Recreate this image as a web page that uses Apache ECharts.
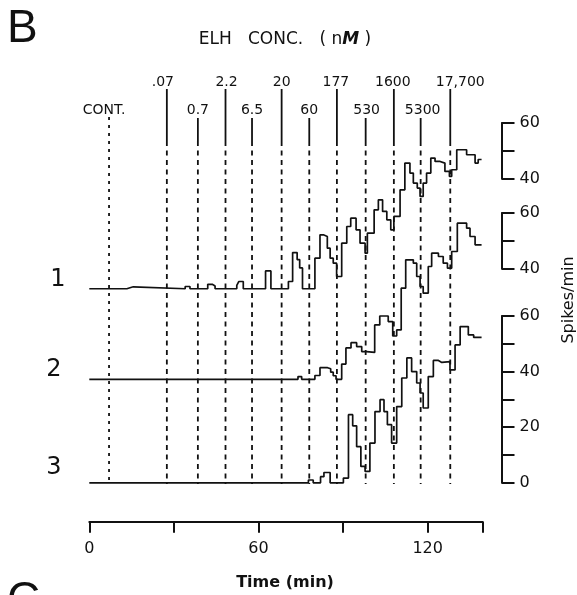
<!DOCTYPE html>
<html>
<head>
<meta charset="utf-8">
<script src="https://cdn.jsdelivr.net/npm/echarts@6/dist/echarts.min.js"></script>
<style>
  html, body { margin: 0; padding: 0; background: #fff; }
  #chart { width: 577px; height: 595px; }
</style>
</head>
<body>
<div id="chart"></div>
<script>
// times (min) when each ELH concentration was applied
const concTimes = [7, 27.5, 38.5, 48.3, 57.7, 68.2, 78, 87.8, 98, 108, 117.5, 128];
const concLabels = ["CONT.", ".07", "0.7", "2.2", "6.5", "20", "60", "177", "530", "1600", "5300", "17,700"];

// spikes/min, [time, rate] held until the next time
const trace1 = [
  [0, 0], [13.3, 0.7], [15.6, 0], [34, 0.8], [35.7, 0], [42, 1.6], [43.6, 1], [44.6, 0],
  [52.3, 1.2], [53, 2.6], [54.6, 0], [62.5, 6.4], [64.4, 0], [70.6, 2.6], [72.1, 13],
  [73.7, 10.5], [74.6, 7.5], [75.6, 0], [80, 11], [81.8, 19.4], [83, 18.8], [84.4, 14.6],
  [85.4, 11], [86.5, 9.2], [87.7, 4.4], [89.5, 16.4], [91.3, 22.4], [92.7, 25.4], [94.6, 21.2],
  [96, 16.4], [97.8, 12.8], [98.6, 20], [101, 28.4], [102.5, 32], [104, 27.8], [105.5, 24.8],
  [106.9, 21.2], [108, 26], [110.2, 35.6], [111.9, 45.2], [113.7, 41.6], [114.9, 38],
  [116.3, 36.2], [117.3, 33.2], [118.4, 38], [119.6, 41.6], [121.1, 47], [122.6, 45.8],
  [124.4, 45.2], [126.1, 42.2], [127.7, 40.4], [128.5, 42.8], [130.3, 50], [133.8, 48.2],
  [136.8, 45.2], [137.9, 46.5], [139.1, 46.5]
];
const trace2 = [
  [0, 0], [74, 1], [75.3, 0], [80, 1.4], [81.8, 4.2], [84.5, 3.8], [85.6, 2.6], [86.5, 1.3],
  [87.5, 0], [89.5, 5.5], [91, 11.3], [92.8, 13.2], [94.8, 11.8], [96.6, 10], [98.3, 9.7],
  [101.2, 19.6], [103, 22.8], [106, 20.8], [107.6, 15.6], [109, 17.8], [110.6, 32.8],
  [112.2, 43], [114.9, 41.8], [116.1, 37], [117.3, 33.4], [118.4, 31], [120.2, 40.6],
  [121.4, 45.4], [123.8, 44.2], [125.5, 41.8], [127, 40], [128.5, 46], [130.5, 56.2],
  [133.8, 54.4], [135, 51.4], [136.8, 48.4], [139.1, 48.4]
];
const trace3 = [
  [0, 0], [77.7, 1], [79.4, 0], [82, 2.2], [83.2, 3.7], [85.4, 0], [90.1, 1.7], [91.9, 24.5],
  [93.4, 20.5], [94.8, 13], [96.3, 5.9], [97.8, 4.1], [99.5, 14.3], [101.3, 25.6], [103.1, 29.9],
  [104.5, 25.6], [105.7, 20.9], [107.2, 14.3], [109, 27.4], [110.8, 37.7], [112.6, 44.9],
  [114.3, 40], [116.1, 35.9], [117.3, 32.3], [118.4, 26.9], [120.2, 38.2], [122, 44],
  [123.8, 43.3], [125, 43.6], [127.9, 40.6], [129.7, 49.6], [131.5, 56.2], [134.4, 53.2],
  [136.3, 52.3], [139.1, 52.3]
];
const traces = [trace1, trace2, trace3];
const traceNames = ["1", "2", "3"];
const traceOffsets = [69.8, 37.2, 0]; // vertical stacking of the three records

const xTickLabels = [0, 60, 120];
const scaleBars = [
  { min: 40, max: 60, labels: [40, 60] },
  { min: 40, max: 60, labels: [40, 60] },
  { min: 0, max: 60, labels: [0, 20, 40, 60] }
];

const INK = "#111";
const FONT = "DejaVu Sans";
const labelDx = [-5, -4, 0, 1, 0, 0, 0, -1, 1, -1, 2, 10];

const chart = echarts.init(document.getElementById("chart"));

function renderConc(params, api) {
  const i = params.dataIndex;
  const x = api.coord([api.value(0), 0])[0];
  const upper = i % 2 === 1;
  const first = i === 0;
  const children = [
    {
      type: "line",
      shape: { x1: x, y1: first ? 117 : 141, x2: x, y2: 484 },
      style: { stroke: INK, lineWidth: 1.8, lineDash: first ? [3, 5] : [5, 4.5] }
    },
    {
      type: "text",
      x: x + labelDx[i],
      y: upper ? 82 : 110,
      style: {
        text: concLabels[i], fill: INK, fontSize: 14, fontFamily: FONT,
        align: "center", verticalAlign: "middle"
      }
    }
  ];
  if (!first) {
    children.push({
      type: "line",
      shape: { x1: x, y1: upper ? 89 : 118, x2: x, y2: 141 },
      style: { stroke: INK, lineWidth: 1.8 }
    });
  }
  return { type: "group", children };
}

const barGrids = [
  { left: 470, right: 75.5, top: 123, height: 55.6 },
  { left: 470, right: 75.5, top: 213, height: 55.6 },
  { left: 470, right: 75.5, top: 316, height: 166.5 }
];

const grids = [{ left: 89.3, right: 94.3, top: 93.6, bottom: 73.3 }].concat(barGrids);

const xAxes = [{
  type: "value", gridIndex: 0, min: 0, max: 139.5, interval: 30,
  axisLine: { show: true, onZero: false, lineStyle: { color: INK, width: 2 } },
  axisTick: { show: true, length: 11, lineStyle: { color: INK, width: 2 } },
  axisLabel: {
    color: INK, fontSize: 16, fontFamily: FONT, margin: 19,
    formatter: v => (xTickLabels.indexOf(v) >= 0 ? String(v) : "")
  },
  splitLine: { show: false }
}];
const yAxes = [{
  type: "value", gridIndex: 0, min: -14, max: 140, show: false
}];
scaleBars.forEach((b, k) => {
  xAxes.push({ type: "value", gridIndex: k + 1, show: false });
  yAxes.push({
    type: "value", gridIndex: k + 1, position: "right",
    min: b.min, max: b.max, interval: 10,
    axisLine: { show: true, onZero: false, lineStyle: { color: INK, width: 2 } },
    axisTick: { show: true, length: 13, lineStyle: { color: INK, width: 2 } },
    axisLabel: {
      color: INK, fontSize: 16, fontFamily: FONT, margin: 18,
      formatter: v => (b.labels.indexOf(v) >= 0 ? String(v) : "")
    },
    splitLine: { show: false }
  });
});

const series = traces.map((tr, k) => ({
  name: traceNames[k],
  type: "line",
  step: "end",
  xAxisIndex: 0,
  yAxisIndex: 0,
  symbol: "none",
  silent: true,
  lineStyle: { color: INK, width: 1.7 },
  data: tr.map(p => [p[0], p[1] + traceOffsets[k]])
}));
series.push({
  type: "custom",
  xAxisIndex: 0,
  yAxisIndex: 0,
  clip: false,
  silent: true,
  renderItem: renderConc,
  data: concTimes.map((t, i) => [t, i])
});

const textStyle = (txt, extra) => Object.assign({ text: txt, fill: INK, fontFamily: FONT }, extra);

chart.setOption({
  animation: false,
  backgroundColor: "#fff",
  grid: grids,
  xAxis: xAxes,
  yAxis: yAxes,
  series: series,
  graphic: [
    { type: "text", left: 7, top: 6, style: textStyle("B", { fontSize: 46, fontFamily: "Liberation Sans" }) },
    { type: "text", left: 7, top: 578, style: textStyle("C", { fontSize: 46, fontFamily: "Liberation Sans" }) },
    {
      type: "text", x: 285, y: 40,
      style: {
        text: "{a|ELH   CONC.   ( n}{b|M}{a| )}",
        align: "center", verticalAlign: "middle",
        rich: {
          a: { fontSize: 17, fontFamily: FONT, fill: INK },
          b: { fontSize: 17, fontFamily: FONT, fill: INK, fontStyle: "italic", fontWeight: "bold" }
        }
      }
    },
    { type: "text", x: 58, y: 280, style: textStyle(traceNames[0], { fontSize: 24, align: "center", verticalAlign: "middle" }) },
    { type: "text", x: 54, y: 370, style: textStyle(traceNames[1], { fontSize: 24, align: "center", verticalAlign: "middle" }) },
    { type: "text", x: 54, y: 468, style: textStyle(traceNames[2], { fontSize: 24, align: "center", verticalAlign: "middle" }) },
    { type: "text", x: 285, y: 583, style: textStyle("Time (min)", { fontSize: 16, fontWeight: "bold", align: "center", verticalAlign: "middle" }) },
    { type: "text", x: 569, y: 300, rotation: Math.PI / 2, style: textStyle("Spikes/min", { fontSize: 16, align: "center", verticalAlign: "middle" }) }
  ]
});
</script>
</body>
</html>
